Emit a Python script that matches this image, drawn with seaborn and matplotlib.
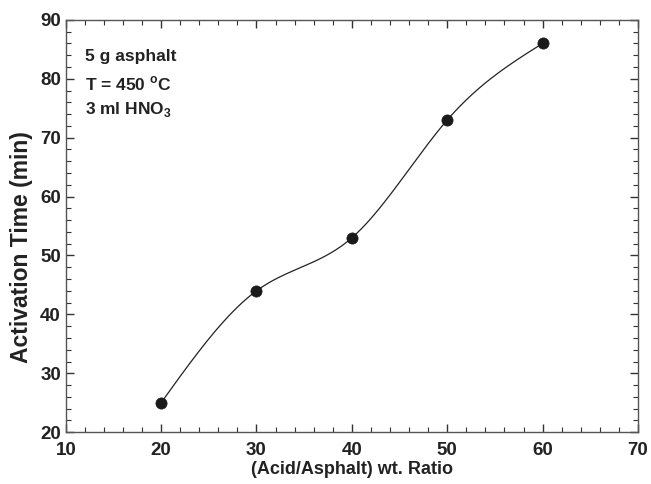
import numpy as np
import pandas as pd
import matplotlib
matplotlib.use("Agg")
import matplotlib.pyplot as plt
import seaborn as sns
from matplotlib.ticker import MultipleLocator

ratio = [20, 30, 40, 50, 60]
activation_time = [25, 44, 53, 73, 86]

sns.set_theme(style="ticks")
plt.rcParams["font.family"] = ["Liberation Sans", "DejaVu Sans"]
plt.rcParams["font.weight"] = "bold"
plt.rcParams["mathtext.fontset"] = "custom"
plt.rcParams["mathtext.rm"] = "Liberation Sans:bold"
plt.rcParams["mathtext.bf"] = "Liberation Sans:bold"


def natural_cubic_spline(x, y, n=300):
    x = np.asarray(x, float)
    y = np.asarray(y, float)
    k = len(x)
    h = np.diff(x)
    A = np.zeros((k, k))
    b = np.zeros(k)
    A[0, 0] = A[-1, -1] = 1
    for i in range(1, k - 1):
        A[i, i - 1] = h[i - 1]
        A[i, i] = 2 * (h[i - 1] + h[i])
        A[i, i + 1] = h[i]
        b[i] = 6 * ((y[i + 1] - y[i]) / h[i] - (y[i] - y[i - 1]) / h[i - 1])
    M = np.linalg.solve(A, b)
    xs = np.linspace(x[0], x[-1], n)
    idx = np.clip(np.searchsorted(x, xs) - 1, 0, k - 2)
    x0, x1 = x[idx], x[idx + 1]
    hh = x1 - x0
    ys = (M[idx] * (x1 - xs) ** 3 / (6 * hh) + M[idx + 1] * (xs - x0) ** 3 / (6 * hh)
          + (y[idx] / hh - M[idx] * hh / 6) * (x1 - xs)
          + (y[idx + 1] / hh - M[idx + 1] * hh / 6) * (xs - x0))
    return xs, ys


df = pd.DataFrame({"ratio": ratio, "time": activation_time})
xs, ys = natural_cubic_spline(ratio, activation_time)
curve = pd.DataFrame({"ratio": xs, "time": ys})

fig = plt.figure(figsize=(6.51, 4.84), dpi=100)
ax = fig.add_axes([0.101, 0.107, 0.879, 0.852])

sns.lineplot(data=curve, x="ratio", y="time", ax=ax, color="#222222", linewidth=0.9)
sns.scatterplot(data=df, x="ratio", y="time", ax=ax, color="#1a1a1a", s=65,
                edgecolor="#1a1a1a", linewidth=0.5, zorder=3)

ax.set_xlim(10, 70)
ax.set_ylim(20, 90)
ax.xaxis.set_major_locator(MultipleLocator(10))
ax.xaxis.set_minor_locator(MultipleLocator(2))
ax.yaxis.set_major_locator(MultipleLocator(10))
ax.yaxis.set_minor_locator(MultipleLocator(2))
ax.tick_params(which="both", direction="in", top=True, right=True,
               colors="#333333", labelcolor="#222222", labelsize=13.5)
ax.tick_params(which="major", length=6, width=1.0)
ax.tick_params(which="minor", length=3.5, width=0.8)
ax.tick_params(axis="x", which="major", pad=7)
ax.tick_params(axis="y", which="major", pad=3.5)
for sp in ax.spines.values():
    sp.set_color("#555555")
    sp.set_linewidth(1.0)

ax.set_xlabel("(Acid/Asphalt) wt. Ratio", fontsize=13, fontweight="bold",
              color="#222222", va="center")
ax.set_ylabel("Activation Time (min)", fontsize=16.5, fontweight="bold",
              color="#222222", va="center")
ax.xaxis.set_label_coords(0.5, -0.09)
ax.yaxis.set_label_coords(-0.077, 0.449)

tkw = dict(transform=ax.transAxes, fontsize=12.5, fontweight="bold", color="#222222", va="center")
ax.text(0.033, 0.911, "5 g asphalt", **tkw)
ax.text(0.033, 0.845, r"T = 450 $^{\mathregular{o}}$C", **tkw)
ax.text(0.033, 0.782, r"3 ml HNO$_{\mathregular{3}}$", **tkw)

fig.savefig("out.png", dpi=100)
